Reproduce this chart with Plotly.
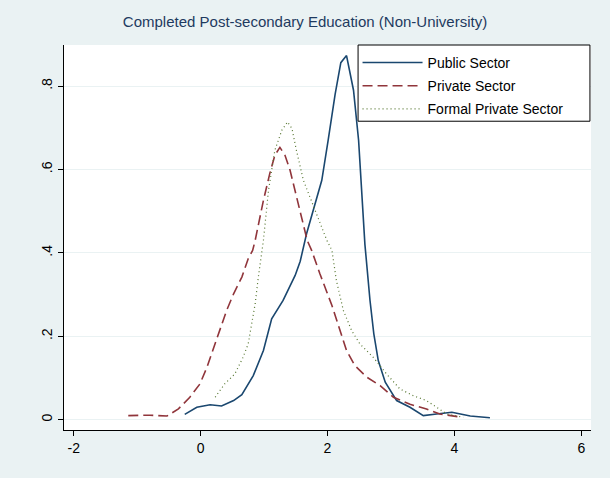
import plotly.graph_objects as go

title_text = "Completed Post-secondary Education (Non-University)"
series_names = ["Public Sector", "Private Sector", "Formal Private Sector"]

public_x = [-0.25, -0.06, 0.15, 0.33, 0.52, 0.65, 0.83, 0.99, 1.12, 1.30, 1.49, 1.57, 1.67, 1.91, 2.01,
            2.12, 2.21, 2.30, 2.41, 2.49, 2.59, 2.67, 2.73, 2.80, 2.91, 3.09, 3.30, 3.51, 3.72, 3.96, 4.25, 4.56]
public_y = [0.013, 0.030, 0.036, 0.033, 0.046, 0.060, 0.106, 0.166, 0.242, 0.286, 0.346, 0.380, 0.446, 0.574, 0.670,
            0.780, 0.856, 0.873, 0.790, 0.670, 0.420, 0.286, 0.206, 0.142, 0.090, 0.046, 0.030, 0.010, 0.014, 0.018, 0.009, 0.005]

private_x = [-1.14, -0.80, -0.53, -0.35, -0.17, -0.01, 0.10, 0.20, 0.31, 0.41, 0.52, 0.65, 0.75, 0.82, 0.86,
             0.99, 1.09, 1.17, 1.25, 1.33, 1.41, 1.51, 1.59, 1.68, 1.75, 1.88, 2.07, 2.20, 2.30, 2.43, 2.62,
             2.83, 3.04, 3.30, 3.56, 3.77, 3.98, 4.11]
private_y = [0.010, 0.011, 0.009, 0.026, 0.054, 0.086, 0.126, 0.170, 0.214, 0.262, 0.302, 0.342, 0.386, 0.406, 0.430,
             0.526, 0.590, 0.634, 0.653, 0.634, 0.598, 0.534, 0.486, 0.430, 0.406, 0.350, 0.274, 0.214, 0.166, 0.130, 0.102,
             0.082, 0.054, 0.037, 0.026, 0.014, 0.008, 0.006]

formal_x = [0.23, 0.38, 0.54, 0.67, 0.75, 0.80, 0.86, 0.91, 0.96, 0.99, 1.07, 1.17, 1.28, 1.37, 1.44, 1.51,
            1.62, 1.70, 1.83, 1.99, 2.07, 2.14, 2.25, 2.38, 2.51, 2.72, 2.93, 3.14, 3.35, 3.56, 3.72, 3.88, 4.04, 4.14]
formal_y = [0.054, 0.086, 0.110, 0.150, 0.182, 0.222, 0.278, 0.342, 0.406, 0.430, 0.550, 0.646, 0.694, 0.714, 0.698, 0.646,
            0.574, 0.542, 0.494, 0.430, 0.406, 0.334, 0.262, 0.214, 0.182, 0.150, 0.110, 0.074, 0.058, 0.046, 0.030, 0.014, 0.009, 0.006]

x_ticks = [-2, 0, 2, 4, 6]
x_tick_labels = ["-2", "0", "2", "4", "6"]
y_ticks = [0, 0.2, 0.4, 0.6, 0.8]
y_tick_labels = ["0", ".2", ".4", ".6", ".8"]

FONT = "Liberation Sans, Arial, sans-serif"

fig = go.Figure()
fig.add_trace(go.Scatter(x=public_x, y=public_y, mode="lines", name=series_names[0], legendgroup="a",
                         line=dict(color="#1A476F", width=1.6)))
fig.add_trace(go.Scatter(x=private_x, y=private_y, mode="lines", name=series_names[1], legendgroup="b",
                         line=dict(color="#90353B", width=1.6, dash="10px,5px")))
fig.add_trace(go.Scatter(x=formal_x, y=formal_y, mode="lines", name=series_names[2], legendgroup="c",
                         line=dict(color="#55752F", width=1.2, dash="1px,3px")))

# legend frame (wider than plotly's auto-sized box, as in the reference)
fig.add_shape(type="rect", xref="paper", yref="paper", x0=0.558, x1=0.998, y0=0.802, y1=1.0,
              line=dict(color="#000000", width=1), fillcolor="#FFFFFF", layer="above")

fig.update_layout(
    width=610, height=478,
    margin=dict(l=64, r=19, t=45, b=48),
    paper_bgcolor="#EAF2F3",
    plot_bgcolor="#FFFFFF",
    title=dict(text=title_text, x=0.5, xanchor="center", y=0.955, yanchor="middle",
               font=dict(family=FONT, size=15, color="#1E3A5F")),
    font=dict(family=FONT, size=14, color="#000000"),
    showlegend=True,
    legend=dict(x=0.557, y=0.995, xanchor="left", yanchor="top",
                bgcolor="rgba(0,0,0,0)", borderwidth=0,
                font=dict(family=FONT, size=14, color="#000000"),
                itemwidth=60, tracegroupgap=2),
    xaxis=dict(range=[-2.153, 6.153], tickvals=x_ticks, ticktext=x_tick_labels,
               showgrid=False, zeroline=False, showline=True, linecolor="#000000", linewidth=1,
               ticks="outside", ticklen=5, tickcolor="#000000", tickfont=dict(size=14)),
    yaxis=dict(range=[-0.0245, 0.8984], tickvals=y_ticks, ticktext=y_tick_labels,
               showgrid=True, gridcolor="#EAF2F3", gridwidth=1, zeroline=False,
               showline=True, linecolor="#000000", linewidth=1,
               ticks="outside", ticklen=5, tickcolor="#000000", tickangle=-90,
               tickfont=dict(size=14)),
)

fig.write_html("out.html")
